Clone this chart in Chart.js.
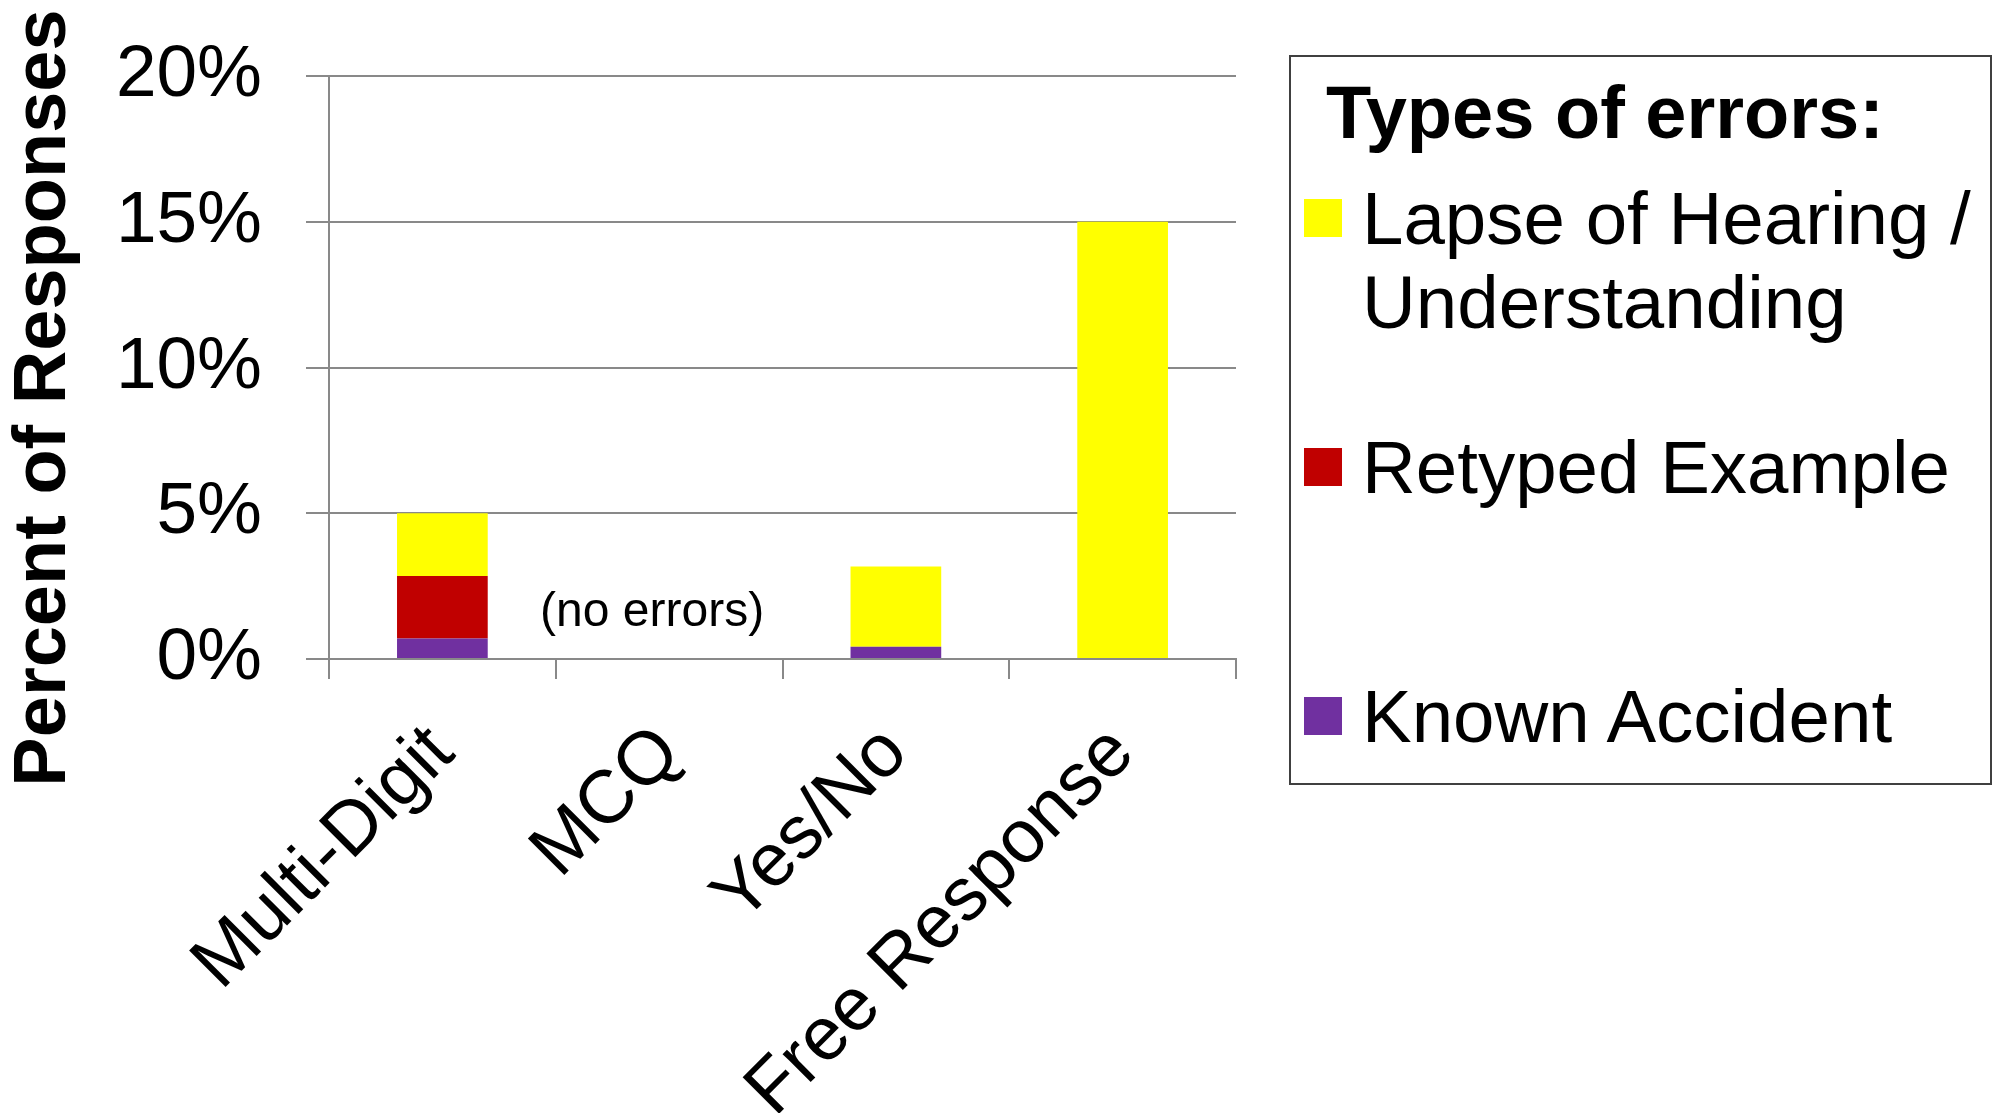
<!DOCTYPE html>
<html>
<head>
<meta charset="utf-8">
<script src="https://cdn.jsdelivr.net/npm/chart.js@4.4.1/dist/chart.umd.min.js"></script>
<style>
  html, body { margin: 0; padding: 0; background: #fff; }
  #wrap { position: relative; width: 2000px; height: 1113px; overflow: hidden; font-family: 'Liberation Sans', Arial, sans-serif; color: #000; }
  #chartBox { position: absolute; left: 0; top: 0; width: 2000px; height: 1113px; }
  #legend { position: absolute; left: 1289px; top: 55px; width: 703px; height: 730px; box-sizing: border-box; border: 2px solid #404040; background: #fff; }
  #legend .title { position: absolute; left: 35px; top: 14px; font-weight: bold; font-size: 74px; line-height: 84px; white-space: nowrap; }
  #legend .item { position: absolute; left: 0; width: 698px; }
  #legend .swatch { position: absolute; left: 13px; top: 22px; width: 38px; height: 38px; }
  #legend .label { position: absolute; left: 71px; top: 0; width: 625px; font-size: 74.5px; line-height: 84px; }
</style>
</head>
<body>
<div id="wrap">
  <div id="chartBox"><canvas id="errorsChart"></canvas></div>
  <div id="legend"><div class="title">Types of errors:</div></div>
</div>
<script>
const categories = ['Multi-Digit', 'MCQ', 'Yes/No', 'Free Response'];
const knownAccident = [0.7, 0, 0.42, 0];
const retypedExample = [2.15, 0, 0, 0];
const lapseOfHearing = [2.15, 0, 2.75, 15];
const yTicks = [0, 5, 10, 15, 20];

const seriesNames = ['Known Accident', 'Retyped Example', 'Lapse of Hearing / Understanding'];
const seriesColors = ['#7030a0', '#c00000', '#ffff00'];

const yTitle = 'Percent of Responses';
const noteText = '(no errors)';
const noteCategory = 1;   // MCQ
const noteLevel = 1.6;    // percent

const FONT = "'Liberation Sans', Arial, sans-serif";
const GRID = '#898989';

// note text inside the empty MCQ column
const notePlugin = {
    id: 'note',
    afterDatasetsDraw(chart) {
        const { ctx, scales: { x, y } } = chart;
        ctx.save();
        ctx.font = '48px ' + FONT;
        ctx.fillStyle = '#000';
        ctx.textAlign = 'center';
        ctx.textBaseline = 'middle';
        ctx.fillText(noteText, x.getPixelForValue(noteCategory) - 17, y.getPixelForValue(noteLevel));
        ctx.restore();
    }
};

// vertical axis title, drawn by hand so it can sit lower than the axis centre
const yTitlePlugin = {
    id: 'yTitle',
    afterDraw(chart) {
        const ctx = chart.ctx;
        ctx.save();
        ctx.translate(45, 398);
        ctx.rotate(-Math.PI / 2);
        ctx.font = 'bold 74px ' + FONT;
        ctx.fillStyle = '#000';
        ctx.textAlign = 'center';
        ctx.textBaseline = 'middle';
        ctx.fillText(yTitle, 0, 0);
        ctx.restore();
    }
};

const series = [knownAccident, retypedExample, lapseOfHearing];

const chart = new Chart(document.getElementById('errorsChart'), {
    type: 'bar',
    data: {
        labels: categories,
        datasets: series.map((values, i) => ({
            label: seriesNames[i],
            data: values,
            backgroundColor: seriesColors[i],
            borderWidth: 0,
            barPercentage: 0.4,
            categoryPercentage: 1
        }))
    },
    options: {
        responsive: true,
        maintainAspectRatio: false,
        animation: false,
        layout: { padding: { top: 76, right: 764, bottom: 0, left: 0 } },
        plugins: { legend: { display: false }, tooltip: { enabled: false } },
        scales: {
            x: {
                stacked: true,
                afterFit: s => { s.height = 454; },
                grid: { display: true, offset: true, drawOnChartArea: false, drawTicks: true, tickLength: 20, color: GRID, lineWidth: 2 },
                border: { display: true, color: GRID, width: 2 },
                ticks: { color: '#000', font: { family: FONT, size: 75 }, minRotation: 45, maxRotation: 45, autoSkip: false, padding: 30 }
            },
            y: {
                stacked: true,
                min: 0,
                max: 20,
                afterFit: s => { s.width = 329; s.paddingTop = 0; s.paddingBottom = 0; },
                afterBuildTicks: s => { s.ticks = yTicks.map(v => ({ value: v })); },
                grid: { color: GRID, lineWidth: 2, drawTicks: true, tickLength: 23 },
                border: { display: true, color: GRID, width: 2 },
                ticks: { color: '#000', font: { family: FONT, size: 73 }, padding: 44, callback: v => v + '%' }
            }
        }
    },
    plugins: [notePlugin, yTitlePlugin]
});

// legend box, items listed top-down in reverse stacking order
const legend = document.getElementById('legend');
chart.data.datasets.slice().reverse().forEach((ds, i) => {
    const item = document.createElement('div');
    item.className = 'item';
    item.style.top = (120 + i * 249) + 'px';
    item.innerHTML = `
        <span class="swatch" style="background:${ds.backgroundColor}"></span>
        <span class="label">${ds.label}</span>
    `;
    legend.appendChild(item);
});
</script>
</body>
</html>
